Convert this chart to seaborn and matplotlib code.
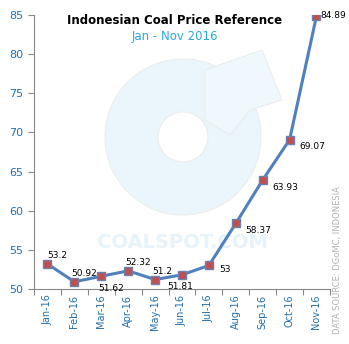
import matplotlib
matplotlib.use("Agg")
import matplotlib.pyplot as plt
import seaborn as sns
import pandas as pd
from matplotlib.patches import Wedge, Circle, Polygon

months = ["Jan-16", "Feb-16", "Mar-16", "Apr-16", "May-16", "Jun-16",
          "Jul-16", "Aug-16", "Sep-16", "Oct-16", "Nov-16"]
prices = [53.2, 50.92, 51.62, 52.32, 51.2, 51.81, 53, 58.37, 63.93, 69.07, 84.89]
labels = ["53.2", "50.92", "51.62", "52.32", "51.2", "51.81", "53", "58.37", "63.93", "69.07", "84.89"]
yticks = [50, 55, 60, 65, 70, 75, 80, 85]

sns.set_theme(style="white")
plt.rcParams['font.family'] = ['DejaVu Sans']

df = pd.DataFrame({"month": months, "price": prices, "x": range(len(months))})

fig = plt.figure(figsize=(3.49, 3.44), dpi=100)

# watermark layer (pixel coordinates, y downward)
wax = fig.add_axes([0, 0, 1, 1], zorder=0)
wax.set_xlim(0, 349)
wax.set_ylim(344, 0)
wax.set_aspect("equal")
wax.axis("off")
wm = "#eaf6fc"
wax.add_patch(Wedge((183, 137), 78, 0, 360, width=53, facecolor=wm, edgecolor="#ececec", linewidth=0.8))
wax.add_patch(Polygon([(205, 70), (262, 50), (282, 100), (250, 110), (230, 135), (205, 120)],
                      closed=True, facecolor="#eef8fd", edgecolor="#ececec", linewidth=0.8))
wax.text(182, 243, "COALSPOT.COM", color="#e6f3fa", fontsize=14, fontweight="bold",
         ha="center", va="center")

ax = fig.add_axes([0.0974, 0.16, 0.848, 0.796], zorder=1)
ax.set_facecolor("none")

blue = "#4f81bd"
sns.lineplot(data=df, x="x", y="price", ax=ax, color=blue, linewidth=2.2,
             marker="s", markersize=6, markerfacecolor="#c0504d",
             markeredgecolor="#6d7fb0", markeredgewidth=1, zorder=3)

offsets = [(0.0, 1.1, "left"), (-0.1, 1.1, "left"), (-0.1, -1.5, "left"), (-0.1, 1.1, "left"),
           (-0.1, 1.0, "left"), (-0.55, -1.5, "left"), (0.4, -0.5, "left"), (0.35, -0.9, "left"),
           (0.35, -0.9, "left"), (0.35, -0.9, "left"), (0.15, 0.0, "left")]
for i, (v, lab) in enumerate(zip(prices, labels)):
    dx, dy, ha = offsets[i]
    ax.text(i + dx, v + dy, lab, fontsize=6.5, color="black", ha=ha, va="center", zorder=4)

ax.set_xlim(-0.5, 10.5)
ax.set_ylim(50, 85)
ax.set_yticks(yticks)
ax.set_xticks(range(len(months)))
ax.set_xticklabels(months, rotation=90, fontsize=7, color="#1f6fae")
ax.set_yticklabels([str(t) for t in yticks], fontsize=8, color="#1f6fae")
ax.set_xlabel("")
ax.set_ylabel("")
for s in ["top", "right"]:
    ax.spines[s].set_visible(False)
for s in ["left", "bottom"]:
    ax.spines[s].set_color("#888888")
    ax.spines[s].set_linewidth(0.8)
ax.tick_params(axis="y", length=4, width=0.8, color="#888888", left=True, pad=4)
ax.tick_params(axis="x", length=0, pad=4)
ax.set_xticks([i - 0.5 for i in range(len(months) + 1)], minor=True)
ax.tick_params(axis="x", which="minor", length=4, width=0.8, color="#888888", bottom=True)
ax.grid(False)

fig.text(0.5, 0.94, "Indonesian Coal Price Reference", fontsize=8.5, fontweight="bold",
         color="black", ha="center", va="center")
fig.text(0.5, 0.895, "Jan - Nov 2016", fontsize=8.5, color="#29abe2", ha="center", va="center")
fig.text(0.968, 0.03, "DATA SOURCE: DGoMC, INDONESIA", fontsize=6, color="#b0b0b0",
         rotation=90, ha="center", va="bottom")

fig.savefig("out.png", dpi=100, facecolor="white")
